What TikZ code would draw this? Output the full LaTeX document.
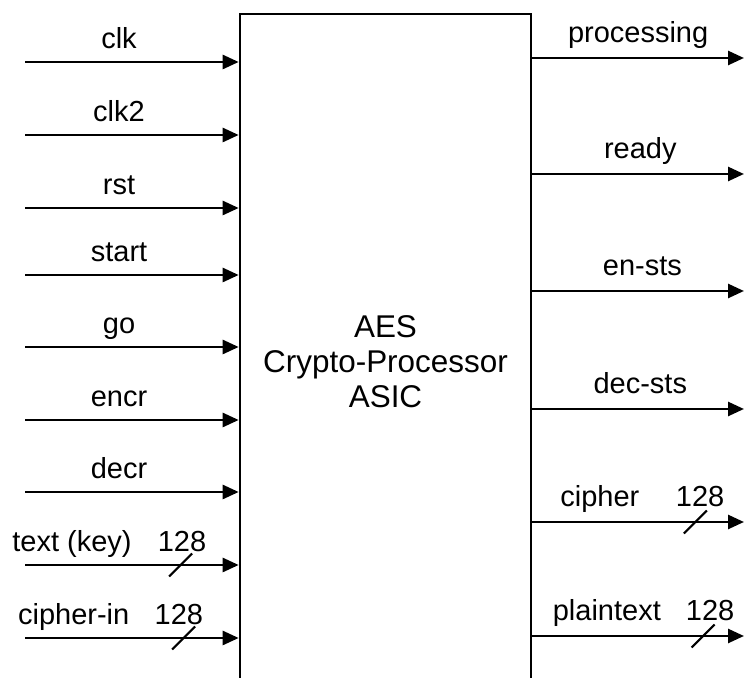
\documentclass[tikz,border=0pt]{standalone}
\usepackage{fontspec}
\setmainfont{Liberation Sans}
\usepackage{tikz}
\usetikzlibrary{arrows.meta,positioning,calc}

\begin{document}
\begin{tikzpicture}[
    chip/.style={rectangle, draw, line width=1.5pt,
                 minimum width=5.82cm, minimum height=13.9cm,
                 align=center, font=\fontsize{17.9}{19.9}\selectfont},
    arrow/.style={-{Triangle[length=0.32cm, width=0.28cm]}, line width=1.5pt},
    bus/.style={line width=1.2pt},
    insig/.style={font=\fontsize{16.5}{19}\selectfont, inner sep=0pt,
                  text depth=0pt, above=0.24cm},
    outsig/.style={font=\fontsize{16.5}{19}\selectfont, inner sep=0pt,
                   text depth=0pt, above=0.28cm}
  ]
    \useasboundingbox (0,0) rectangle (14.88,13.56);
    \clip (0,0) rectangle (14.88,13.56);

    \node[chip] (chip) at (7.71,6.33) {AES\\Crypto-Processor\\ASIC};

    % inputs
    \coordinate (clk)   at (0.5,12.32);
    \coordinate (clkb)  at (0.5,10.86);
    \coordinate (rst)   at (0.5,9.40);
    \coordinate (start) at (0.5,8.06);
    \coordinate (go)    at (0.5,6.62);
    \coordinate (encr)  at (0.5,5.16);
    \coordinate (decr)  at (0.5,3.72);
    \coordinate (key)   at (0.5,2.26);
    \coordinate (cin)   at (0.5,0.80);

    \draw[arrow] (clk)   -- node[insig, pos=0.44]{clk}   (clk -| chip.west);
    \draw[arrow] (clkb)  -- node[insig, pos=0.44]{clk2}  (clkb -| chip.west);
    \draw[arrow] (rst)   -- node[insig, pos=0.44]{rst}   (rst -| chip.west);
    \draw[arrow] (start) -- node[insig, pos=0.44]{start} (start -| chip.west);
    \draw[arrow] (go)    -- node[insig, pos=0.44]{go}    (go -| chip.west);
    \draw[arrow] (encr)  -- node[insig, pos=0.44]{encr}  (encr -| chip.west);
    \draw[arrow] (decr)  -- node[insig, pos=0.44]{decr}  (decr -| chip.west);
    \draw[arrow] (key) -- node[insig, pos=0.22]{text (key)}
                          node[insig, pos=0.735]{128}
                          coordinate[pos=0.728] (keybus) (key -| chip.west);
    \draw[arrow] (cin) -- node[insig, pos=0.228]{cipher-in}
                          node[insig, pos=0.72]{128}
                          coordinate[pos=0.742] (cinbus) (cin -| chip.west);

    % outputs
    \coordinate (proc)  at (14.88,12.40);
    \coordinate (ready) at (14.88,10.08);
    \coordinate (ensts) at (14.88,7.74);
    \coordinate (dests) at (14.88,5.38);
    \coordinate (ciph)  at (14.88,3.12);
    \coordinate (plain) at (14.88,0.84);

    \draw[arrow] (proc -| chip.east)  -- node[outsig, pos=0.5]{processing} (proc);
    \draw[arrow] (ready -| chip.east) -- node[outsig, pos=0.51]{ready}     (ready);
    \draw[arrow] (ensts -| chip.east) -- node[outsig, pos=0.52]{en-sts}    (ensts);
    \draw[arrow] (dests -| chip.east) -- node[outsig, pos=0.51]{dec-sts}   (dests);
    \draw[arrow] (ciph -| chip.east) -- node[outsig, pos=0.319]{cipher}
                                        node[outsig, pos=0.793]{128}
                                        coordinate[pos=0.77] (ciphbus) (ciph);
    \draw[arrow] (plain -| chip.east) -- node[outsig, pos=0.352]{plaintext}
                                         node[outsig, pos=0.84]{128}
                                         coordinate[pos=0.807] (plainbus) (plain);

    % bus width marks
    \draw[bus] ([shift={(-0.23,-0.23)}]keybus)   -- ([shift={(0.23,0.23)}]keybus);
    \draw[bus] ([shift={(-0.23,-0.23)}]cinbus)   -- ([shift={(0.23,0.23)}]cinbus);
    \draw[bus] ([shift={(-0.23,-0.23)}]ciphbus)  -- ([shift={(0.23,0.23)}]ciphbus);
    \draw[bus] ([shift={(-0.23,-0.23)}]plainbus) -- ([shift={(0.23,0.23)}]plainbus);
  \end{tikzpicture}
\end{document}
